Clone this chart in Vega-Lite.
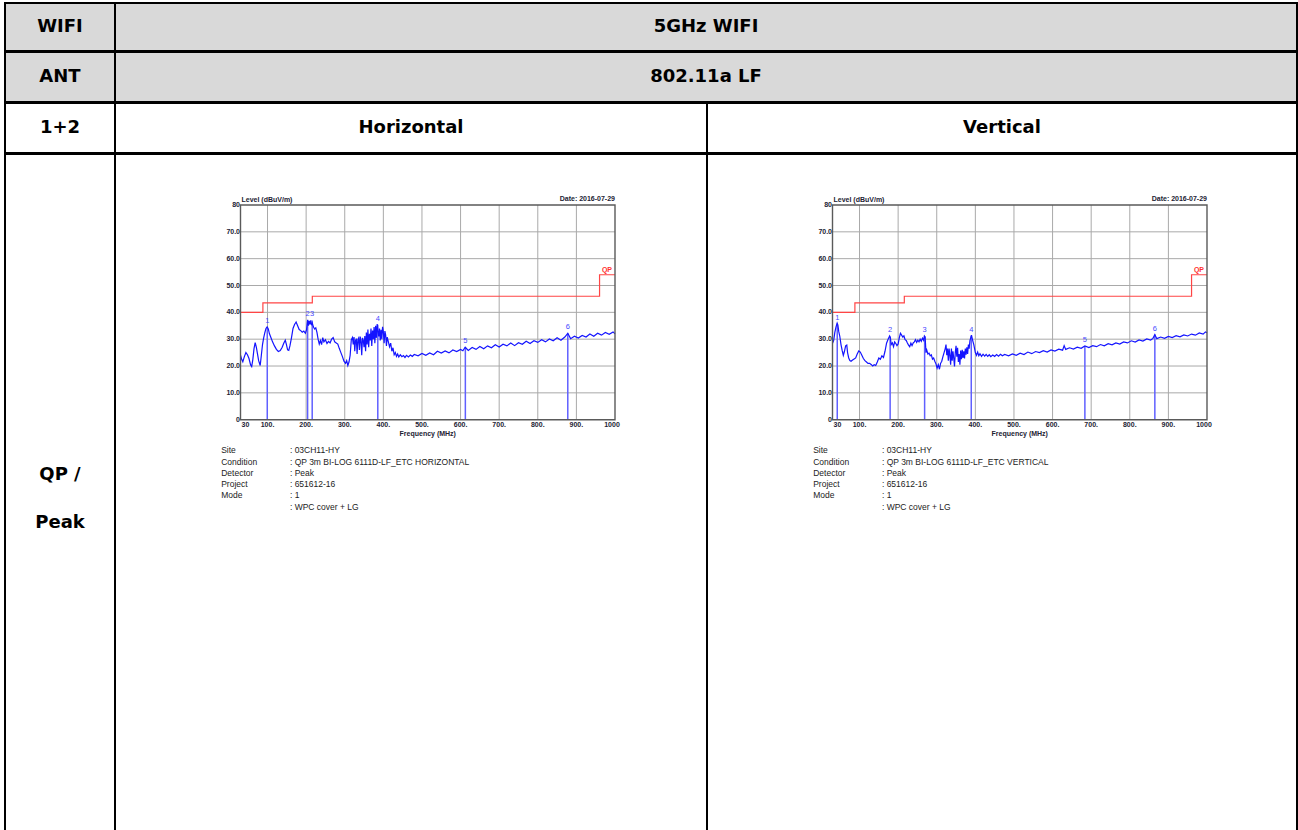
{
  "$schema": "https://vega.github.io/schema/vega-lite/v6.json",
  "padding": {"left": 4, "top": 2, "right": 0, "bottom": 0},
  "background": "white",
  "spacing": -3,
  "config": {
    "view": {"stroke": "black", "strokeWidth": 2},
    "text": {"font": "DejaVu Sans", "fontWeight": "bold", "fontSize": 18, "color": "black"}
  },
  "datasets": {
    "xg": [{"f": 100, "lo": 0, "hi": 80}, {"f": 200, "lo": 0, "hi": 80}, {"f": 300, "lo": 0, "hi": 80}, {"f": 400, "lo": 0, "hi": 80}, {"f": 500, "lo": 0, "hi": 80}, {"f": 600, "lo": 0, "hi": 80}, {"f": 700, "lo": 0, "hi": 80}, {"f": 800, "lo": 0, "hi": 80}, {"f": 900, "lo": 0, "hi": 80}],
    "yg": [{"l": 10, "fa": 30, "fb": 1000}, {"l": 20, "fa": 30, "fb": 1000}, {"l": 30, "fa": 30, "fb": 1000}, {"l": 40, "fa": 30, "fb": 1000}, {"l": 50, "fa": 30, "fb": 1000}, {"l": 60, "fa": 30, "fb": 1000}, {"l": 70, "fa": 30, "fb": 1000}],
    "xl": [{"f": 100, "l": 0, "t": "100."}, {"f": 200, "l": 0, "t": "200."}, {"f": 300, "l": 0, "t": "300."}, {"f": 400, "l": 0, "t": "400."}, {"f": 500, "l": 0, "t": "500."}, {"f": 600, "l": 0, "t": "600."}, {"f": 700, "l": 0, "t": "700."}, {"f": 800, "l": 0, "t": "800."}, {"f": 900, "l": 0, "t": "900."}],
    "yl": [{"f": 30, "l": 80, "t": "80"}, {"f": 30, "l": 70, "t": "70.0"}, {"f": 30, "l": 60, "t": "60.0"}, {"f": 30, "l": 50, "t": "50.0"}, {"f": 30, "l": 40, "t": "40.0"}, {"f": 30, "l": 30, "t": "30.0"}, {"f": 30, "l": 20, "t": "20.0"}, {"f": 30, "l": 10, "t": "10.0"}, {"f": 30, "l": 0, "t": "0"}],
    "lim": [{"f": 30, "l": 40}, {"f": 88, "l": 43.5}, {"f": 216, "l": 46}, {"f": 960, "l": 54}, {"f": 1000, "l": 54}],
    "frame": [{"f0": 30, "f1": 1000, "l0": 0, "l1": 80, "fm": 515, "lq": 54}],
    "mh": [{"f": 99.3, "l": 34.5, "z": 0, "n": "1"}, {"f": 203.8, "l": 37.0, "z": 0, "n": "2"}, {"f": 215.7, "l": 37.0, "z": 0, "n": "3"}, {"f": 385.6, "l": 35.4, "z": 0, "n": "4"}, {"f": 612.4, "l": 27.0, "z": 0, "n": "5"}, {"f": 877.7, "l": 32.2, "z": 0, "n": "6"}],
    "mv": [{"f": 42.3, "l": 35.8, "z": 0, "n": "1"}, {"f": 179.3, "l": 31.0, "z": 0, "n": "2"}, {"f": 268.6, "l": 31.0, "z": 0, "n": "3"}, {"f": 389.4, "l": 31.3, "z": 0, "n": "4"}, {"f": 683.7, "l": 27.5, "z": 0, "n": "5"}, {"f": 864.9, "l": 31.7, "z": 0, "n": "6"}],
    "th": [
      {"f": 30, "l": 24.0}, {"f": 33, "l": 22.5}, {"f": 36, "l": 21.6}, {"f": 40, "l": 23.5}, {"f": 44, "l": 25.0}, {"f": 48, "l": 24.2}, {"f": 52, "l": 22.8}, {"f": 56, "l": 20.5}, {"f": 59, "l": 19.8}, {"f": 62, "l": 22.5}, {"f": 65, "l": 26.5}, {"f": 68, "l": 28.7}, {"f": 71, "l": 27.0}, {"f": 74, "l": 24.5}, {"f": 77, "l": 22.0}, {"f": 81, "l": 20.2}, {"f": 84, "l": 24.0}, {"f": 87, "l": 28.0}, {"f": 90, "l": 30.5}, {"f": 93, "l": 32.4}, {"f": 96, "l": 34.0}, {"f": 99, "l": 34.6}, {"f": 102, "l": 33.8}, {"f": 105, "l": 32.0}, {"f": 109, "l": 30.5}, {"f": 113, "l": 29.0}, {"f": 118, "l": 27.5}, {"f": 123, "l": 26.2}, {"f": 128, "l": 25.4}, {"f": 133, "l": 25.8}, {"f": 138, "l": 27.0}, {"f": 142, "l": 28.5}, {"f": 146, "l": 29.6}, {"f": 149, "l": 28.0}, {"f": 152, "l": 26.0}, {"f": 155, "l": 25.8}, {"f": 158, "l": 27.5}, {"f": 162, "l": 30.5}, {"f": 166, "l": 34.0}, {"f": 170, "l": 35.5}, {"f": 174, "l": 36.4}, {"f": 178, "l": 35.0}, {"f": 182, "l": 33.6}, {"f": 186, "l": 33.2}, {"f": 190, "l": 32.6}, {"f": 194, "l": 33.0}, {"f": 198, "l": 32.2}, {"f": 201, "l": 33.5}, {"f": 204, "l": 37.2}, {"f": 206, "l": 35.0}, {"f": 208, "l": 36.8}, {"f": 210, "l": 35.5}, {"f": 212, "l": 37.0}, {"f": 214, "l": 35.2}, {"f": 216, "l": 36.0}, {"f": 219, "l": 34.5}, {"f": 222, "l": 33.8}, {"f": 225, "l": 34.2}, {"f": 228, "l": 32.5}, {"f": 231, "l": 30.0}, {"f": 234, "l": 28.2}, {"f": 237, "l": 29.5}, {"f": 240, "l": 28.0}, {"f": 243, "l": 30.6}, {"f": 246, "l": 29.0}, {"f": 250, "l": 29.8}, {"f": 254, "l": 28.4}, {"f": 258, "l": 29.2}, {"f": 262, "l": 28.6}, {"f": 266, "l": 30.0}, {"f": 270, "l": 30.6}, {"f": 274, "l": 29.0}, {"f": 278, "l": 28.6}, {"f": 282, "l": 28.2}, {"f": 286, "l": 26.5}, {"f": 290, "l": 25.0}, {"f": 294, "l": 23.5}, {"f": 298, "l": 21.8}, {"f": 302, "l": 21.0}, {"f": 305, "l": 22.0}, {"f": 308, "l": 20.2}, {"f": 311, "l": 21.5}, {"f": 314, "l": 24.0}, {"f": 317, "l": 29.8}, {"f": 320, "l": 30.6}, {"f": 322, "l": 28.0}, {"f": 324, "l": 30.8}, {"f": 326, "l": 25.5}, {"f": 328, "l": 29.5}, {"f": 330, "l": 30.2}, {"f": 332, "l": 24.5}, {"f": 334, "l": 29.8}, {"f": 336, "l": 30.4}, {"f": 338, "l": 26.0}, {"f": 340, "l": 31.0}, {"f": 342, "l": 29.5}, {"f": 344, "l": 24.0}, {"f": 346, "l": 30.5}, {"f": 348, "l": 29.6}, {"f": 350, "l": 27.0}, {"f": 352, "l": 31.2}, {"f": 354, "l": 25.5}, {"f": 356, "l": 32.5}, {"f": 358, "l": 28.0}, {"f": 360, "l": 33.6}, {"f": 362, "l": 27.0}, {"f": 364, "l": 32.0}, {"f": 366, "l": 29.5}, {"f": 368, "l": 34.0}, {"f": 370, "l": 27.5}, {"f": 372, "l": 33.2}, {"f": 374, "l": 30.0}, {"f": 376, "l": 34.5}, {"f": 378, "l": 28.5}, {"f": 380, "l": 35.0}, {"f": 382, "l": 30.5}, {"f": 384, "l": 35.6}, {"f": 386, "l": 33.0}, {"f": 388, "l": 31.0}, {"f": 390, "l": 34.0}, {"f": 392, "l": 29.5}, {"f": 394, "l": 33.5}, {"f": 396, "l": 30.0}, {"f": 398, "l": 34.6}, {"f": 400, "l": 32.8}, {"f": 402, "l": 28.5}, {"f": 404, "l": 33.0}, {"f": 406, "l": 31.5}, {"f": 408, "l": 27.5}, {"f": 410, "l": 30.8}, {"f": 413, "l": 29.0}, {"f": 416, "l": 27.2}, {"f": 419, "l": 28.5}, {"f": 422, "l": 25.5}, {"f": 425, "l": 26.8}, {"f": 428, "l": 24.2}, {"f": 431, "l": 25.0}, {"f": 434, "l": 23.6}, {"f": 437, "l": 24.5}, {"f": 440, "l": 23.4}, {"f": 444, "l": 24.2}, {"f": 448, "l": 23.5}, {"f": 452, "l": 23.9}, {"f": 456, "l": 23.2}, {"f": 460, "l": 24.0}, {"f": 465, "l": 23.4}, {"f": 470, "l": 24.1}, {"f": 475, "l": 23.6}, {"f": 480, "l": 24.3},
      {"f": 490, "l": 23.8}, {"f": 500, "l": 24.7}, {"f": 510, "l": 24.0}, {"f": 520, "l": 24.9}, {"f": 530, "l": 24.2}, {"f": 540, "l": 25.5}, {"f": 550, "l": 24.8}, {"f": 560, "l": 25.6}, {"f": 570, "l": 24.9}, {"f": 580, "l": 26.0}, {"f": 590, "l": 25.4}, {"f": 600, "l": 26.2}, {"f": 606, "l": 25.7}, {"f": 612, "l": 27.0}, {"f": 620, "l": 25.8}, {"f": 630, "l": 26.9}, {"f": 640, "l": 26.2}, {"f": 650, "l": 27.3}, {"f": 660, "l": 26.4}, {"f": 670, "l": 27.5}, {"f": 680, "l": 26.8}, {"f": 690, "l": 27.9}, {"f": 700, "l": 27.1}, {"f": 710, "l": 28.1}, {"f": 720, "l": 27.5}, {"f": 730, "l": 28.6}, {"f": 740, "l": 27.6}, {"f": 750, "l": 28.7}, {"f": 760, "l": 28.1}, {"f": 770, "l": 29.2}, {"f": 780, "l": 28.4}, {"f": 790, "l": 29.4}, {"f": 800, "l": 28.8}, {"f": 810, "l": 29.8}, {"f": 820, "l": 29.0}, {"f": 830, "l": 30.1}, {"f": 840, "l": 29.4}, {"f": 850, "l": 30.5}, {"f": 860, "l": 29.6}, {"f": 870, "l": 30.8}, {"f": 877.7, "l": 32.2}, {"f": 885, "l": 30.2}, {"f": 895, "l": 31.1}, {"f": 905, "l": 30.4}, {"f": 915, "l": 31.4}, {"f": 925, "l": 30.8}, {"f": 935, "l": 31.9}, {"f": 945, "l": 31.1}, {"f": 955, "l": 32.2}, {"f": 965, "l": 31.5}, {"f": 975, "l": 32.5}, {"f": 985, "l": 31.8}, {"f": 995, "l": 32.7}, {"f": 1000, "l": 32.0}
    ],
    "tv": [
      {"f": 30, "l": 28.5}, {"f": 33, "l": 29.5}, {"f": 36, "l": 32.5}, {"f": 39, "l": 34.5}, {"f": 42, "l": 36.0}, {"f": 44, "l": 35.2}, {"f": 46, "l": 33.0}, {"f": 49, "l": 31.0}, {"f": 52, "l": 28.0}, {"f": 55, "l": 25.8}, {"f": 58, "l": 24.0}, {"f": 61, "l": 25.5}, {"f": 64, "l": 27.5}, {"f": 67, "l": 27.8}, {"f": 69, "l": 25.0}, {"f": 72, "l": 23.0}, {"f": 75, "l": 22.0}, {"f": 78, "l": 21.8}, {"f": 82, "l": 22.2}, {"f": 86, "l": 22.6}, {"f": 90, "l": 23.0}, {"f": 94, "l": 24.5}, {"f": 98, "l": 25.6}, {"f": 102, "l": 25.2}, {"f": 106, "l": 24.0}, {"f": 110, "l": 22.8}, {"f": 114, "l": 22.0}, {"f": 118, "l": 21.5}, {"f": 122, "l": 21.0}, {"f": 126, "l": 21.0}, {"f": 130, "l": 20.6}, {"f": 134, "l": 20.0}, {"f": 138, "l": 20.5}, {"f": 142, "l": 20.2}, {"f": 146, "l": 21.5}, {"f": 150, "l": 23.0}, {"f": 154, "l": 22.5}, {"f": 158, "l": 23.8}, {"f": 162, "l": 23.2}, {"f": 166, "l": 25.5}, {"f": 170, "l": 28.5}, {"f": 174, "l": 30.0}, {"f": 178, "l": 31.2}, {"f": 180, "l": 30.5}, {"f": 182, "l": 28.0}, {"f": 185, "l": 28.6}, {"f": 188, "l": 27.2}, {"f": 191, "l": 29.0}, {"f": 194, "l": 28.4}, {"f": 197, "l": 27.6}, {"f": 200, "l": 28.2}, {"f": 203, "l": 30.5}, {"f": 206, "l": 32.2}, {"f": 209, "l": 31.5}, {"f": 212, "l": 30.8}, {"f": 215, "l": 31.2}, {"f": 218, "l": 29.8}, {"f": 221, "l": 29.5}, {"f": 224, "l": 28.6}, {"f": 227, "l": 27.8}, {"f": 230, "l": 27.2}, {"f": 233, "l": 28.5}, {"f": 236, "l": 27.6}, {"f": 239, "l": 28.6}, {"f": 242, "l": 29.0}, {"f": 245, "l": 29.8}, {"f": 248, "l": 28.8}, {"f": 251, "l": 29.6}, {"f": 254, "l": 29.0}, {"f": 257, "l": 30.0}, {"f": 260, "l": 29.2}, {"f": 263, "l": 30.4}, {"f": 266, "l": 29.6}, {"f": 268, "l": 31.2}, {"f": 270, "l": 30.8}, {"f": 272, "l": 25.0}, {"f": 274, "l": 26.0}, {"f": 277, "l": 24.5}, {"f": 280, "l": 24.8}, {"f": 283, "l": 23.8}, {"f": 286, "l": 24.2}, {"f": 289, "l": 22.6}, {"f": 292, "l": 23.0}, {"f": 295, "l": 21.8}, {"f": 298, "l": 20.8}, {"f": 301, "l": 19.2}, {"f": 304, "l": 20.5}, {"f": 307, "l": 18.8}, {"f": 310, "l": 21.0}, {"f": 313, "l": 21.8}, {"f": 316, "l": 23.5}, {"f": 319, "l": 25.0}, {"f": 322, "l": 26.5}, {"f": 324, "l": 28.0}, {"f": 326, "l": 24.0}, {"f": 328, "l": 26.5}, {"f": 330, "l": 22.0}, {"f": 332, "l": 26.5}, {"f": 334, "l": 24.0}, {"f": 336, "l": 20.5}, {"f": 338, "l": 26.5}, {"f": 340, "l": 22.0}, {"f": 342, "l": 25.5}, {"f": 344, "l": 23.0}, {"f": 346, "l": 19.8}, {"f": 348, "l": 25.0}, {"f": 350, "l": 27.5}, {"f": 352, "l": 23.5}, {"f": 354, "l": 26.8}, {"f": 356, "l": 21.5}, {"f": 358, "l": 24.5}, {"f": 360, "l": 20.5}, {"f": 362, "l": 25.8}, {"f": 364, "l": 22.5}, {"f": 366, "l": 26.0}, {"f": 368, "l": 23.0}, {"f": 370, "l": 25.5}, {"f": 372, "l": 22.8}, {"f": 374, "l": 26.5}, {"f": 376, "l": 24.2}, {"f": 378, "l": 27.0}, {"f": 380, "l": 24.5}, {"f": 382, "l": 28.0}, {"f": 384, "l": 26.5}, {"f": 386, "l": 29.5}, {"f": 388, "l": 30.5}, {"f": 390, "l": 31.5}, {"f": 392, "l": 30.2}, {"f": 394, "l": 29.0}, {"f": 396, "l": 28.0}, {"f": 398, "l": 26.5}, {"f": 400, "l": 25.0}, {"f": 403, "l": 24.0}, {"f": 406, "l": 25.2}, {"f": 409, "l": 23.8}, {"f": 412, "l": 24.6}, {"f": 416, "l": 23.6}, {"f": 420, "l": 24.4}, {"f": 424, "l": 23.7}, {"f": 428, "l": 24.3}, {"f": 432, "l": 23.6}, {"f": 436, "l": 24.2}, {"f": 440, "l": 23.5}, {"f": 445, "l": 24.1}, {"f": 450, "l": 23.6}, {"f": 455, "l": 24.3}, {"f": 460, "l": 23.7}, {"f": 465, "l": 24.4}, {"f": 470, "l": 23.8}, {"f": 476, "l": 24.3},
      {"f": 486, "l": 23.8}, {"f": 496, "l": 24.5}, {"f": 506, "l": 24.0}, {"f": 516, "l": 24.8}, {"f": 526, "l": 24.3}, {"f": 536, "l": 25.2}, {"f": 546, "l": 24.6}, {"f": 556, "l": 25.4}, {"f": 566, "l": 25.0}, {"f": 576, "l": 25.7}, {"f": 586, "l": 25.2}, {"f": 596, "l": 26.0}, {"f": 606, "l": 25.6}, {"f": 616, "l": 26.3}, {"f": 626, "l": 25.9}, {"f": 630, "l": 27.6}, {"f": 634, "l": 26.2}, {"f": 644, "l": 26.8}, {"f": 654, "l": 26.3}, {"f": 664, "l": 27.0}, {"f": 674, "l": 26.6}, {"f": 683.7, "l": 27.5}, {"f": 694, "l": 26.9}, {"f": 704, "l": 27.6}, {"f": 714, "l": 27.2}, {"f": 724, "l": 28.0}, {"f": 734, "l": 27.5}, {"f": 744, "l": 28.3}, {"f": 754, "l": 27.9}, {"f": 764, "l": 28.6}, {"f": 774, "l": 28.2}, {"f": 784, "l": 29.0}, {"f": 794, "l": 28.6}, {"f": 804, "l": 29.4}, {"f": 814, "l": 28.9}, {"f": 824, "l": 29.7}, {"f": 834, "l": 29.3}, {"f": 844, "l": 30.1}, {"f": 854, "l": 29.7}, {"f": 860, "l": 30.3}, {"f": 864.9, "l": 31.7}, {"f": 870, "l": 30.2}, {"f": 880, "l": 30.8}, {"f": 890, "l": 30.3}, {"f": 900, "l": 31.0}, {"f": 910, "l": 30.6}, {"f": 920, "l": 31.3}, {"f": 930, "l": 30.9}, {"f": 940, "l": 31.6}, {"f": 950, "l": 31.2}, {"f": 960, "l": 31.9}, {"f": 970, "l": 31.5}, {"f": 980, "l": 32.3}, {"f": 990, "l": 31.9}, {"f": 996, "l": 32.7}, {"f": 1000, "l": 32.4}
    ],
    "info": [{"fk": -20, "fv": 158, "ly": -9.9}]
  },
  "vconcat": [
    {
      "hconcat": [
        {"width": 110, "height": 48, "view": {"fill": "#d9d9d9", "stroke": "black", "strokeWidth": 2}, "data": {"values": [{"label": "WIFI"}]}, "mark": {"type": "text"}, "encoding": {"text": {"field": "label", "type": "nominal"}}},
        {"width": 1182, "height": 48, "view": {"fill": "#d9d9d9", "stroke": "black", "strokeWidth": 2}, "data": {"values": [{"label": "5GHz WIFI"}]}, "mark": {"type": "text"}, "encoding": {"text": {"field": "label", "type": "nominal"}}}
      ],
      "spacing": 0, "bounds": "flush"
    },
    {
      "hconcat": [
        {"width": 110, "height": 50, "view": {"fill": "#d9d9d9", "stroke": "black", "strokeWidth": 2}, "data": {"values": [{"label": "ANT"}]}, "mark": {"type": "text"}, "encoding": {"text": {"field": "label", "type": "nominal"}}},
        {"width": 1182, "height": 50, "view": {"fill": "#d9d9d9", "stroke": "black", "strokeWidth": 2}, "data": {"values": [{"label": "802.11a LF"}]}, "mark": {"type": "text"}, "encoding": {"text": {"field": "label", "type": "nominal"}}}
      ],
      "spacing": 0, "bounds": "flush"
    },
    {
      "hconcat": [
        {"width": 110, "height": 50, "view": {"stroke": "black", "strokeWidth": 2}, "data": {"values": [{"label": "1+2"}]}, "mark": {"type": "text"}, "encoding": {"text": {"field": "label", "type": "nominal"}}},
        {"width": 592, "height": 50, "view": {"stroke": "black", "strokeWidth": 2}, "data": {"values": [{"label": "Horizontal"}]}, "mark": {"type": "text"}, "encoding": {"text": {"field": "label", "type": "nominal"}}},
        {"width": 590, "height": 50, "view": {"stroke": "black", "strokeWidth": 2}, "data": {"values": [{"label": "Vertical"}]}, "mark": {"type": "text"}, "encoding": {"text": {"field": "label", "type": "nominal"}}}
      ],
      "spacing": 0, "bounds": "flush"
    },
    {
      "hconcat": [
        {"width": 110, "height": 678, "view": {"stroke": "black", "strokeWidth": 2, "strokeDash": [788, 110, 678]}, "data": {"values": [{"label": "QP /\nPeak"}]}, "mark": {"type": "text", "lineBreak": "\n", "lineHeight": 48, "dy": -18}, "encoding": {"text": {"field": "label", "type": "nominal"}}},
        {
          "width": 592, "height": 678,
          "view": {"stroke": "black", "strokeWidth": 2, "strokeDash": [1270, 592, 678]},
          "layer": [
            {"data": {"name": "xg"}, "mark": {"type": "rule", "color": "#a9a9a9", "strokeWidth": 1},
             "encoding": {"x": {"field": "f", "type": "quantitative", "scale": {"domain": [-295.06, 1238.29], "nice": false, "zero": false}, "axis": null}, "y": {"field": "lo", "type": "quantitative", "scale": {"domain": [-153.63, 99.0], "nice": false, "zero": false}, "axis": null}, "y2": {"field": "hi"}}},
            {"data": {"name": "yg"}, "mark": {"type": "rule", "color": "#a9a9a9", "strokeWidth": 1},
             "encoding": {"y": {"field": "l", "type": "quantitative", "axis": null}, "x": {"field": "fa", "type": "quantitative", "axis": null}, "x2": {"field": "fb"}}},
            {"data": {"name": "lim"}, "mark": {"type": "line", "interpolate": "step-after", "color": "#ff4545", "strokeWidth": 1.2},
             "encoding": {"x": {"field": "f", "type": "quantitative", "axis": null}, "y": {"field": "l", "type": "quantitative", "axis": null}}},
            {"data": {"name": "mh"}, "mark": {"type": "rule", "color": "#6060ff", "strokeWidth": 1.5},
             "encoding": {"x": {"field": "f", "type": "quantitative", "axis": null}, "y": {"field": "l", "type": "quantitative", "axis": null}, "y2": {"field": "z"}}},
            {"data": {"name": "th"}, "mark": {"type": "line", "color": "#1414ff", "strokeWidth": 1.2},
             "encoding": {"x": {"field": "f", "type": "quantitative", "axis": null}, "y": {"field": "l", "type": "quantitative", "axis": null}}},
            {"data": {"name": "frame"}, "mark": {"type": "rect", "filled": false, "stroke": "#5a5a5a", "strokeWidth": 1.4},
             "encoding": {"x": {"field": "f0", "type": "quantitative", "axis": null}, "x2": {"field": "f1"}, "y": {"field": "l0", "type": "quantitative", "axis": null}, "y2": {"field": "l1"}}},
            {"data": {"name": "xl"}, "mark": {"type": "text", "font": "Liberation Sans", "fontSize": 7, "fontWeight": "bold", "color": "#222233", "baseline": "middle", "dy": 5},
             "encoding": {"x": {"field": "f", "type": "quantitative", "axis": null}, "y": {"field": "l", "type": "quantitative", "axis": null}, "text": {"field": "t", "type": "nominal"}}},
            {"data": {"name": "frame"}, "mark": {"type": "text", "text": "30", "align": "left", "dx": 1, "font": "Liberation Sans", "fontSize": 7, "fontWeight": "bold", "color": "#222233", "baseline": "middle", "dy": 5},
             "encoding": {"x": {"field": "f0", "type": "quantitative", "axis": null}, "y": {"field": "l0", "type": "quantitative", "axis": null}}},
            {"data": {"name": "frame"}, "mark": {"type": "text", "text": "1000", "align": "center", "dx": -3, "font": "Liberation Sans", "fontSize": 7, "fontWeight": "bold", "color": "#222233", "baseline": "middle", "dy": 5},
             "encoding": {"x": {"field": "f1", "type": "quantitative", "axis": null}, "y": {"field": "l0", "type": "quantitative", "axis": null}}},
            {"data": {"name": "yl"}, "mark": {"type": "text", "align": "right", "dx": -0.5, "font": "Liberation Sans", "fontSize": 7, "fontWeight": "bold", "color": "#222233", "baseline": "middle"},
             "encoding": {"x": {"field": "f", "type": "quantitative", "axis": null}, "y": {"field": "l", "type": "quantitative", "axis": null}, "text": {"field": "t", "type": "nominal"}}},
            {"data": {"name": "mh"}, "mark": {"type": "text", "font": "Liberation Sans", "fontSize": 7.5, "fontWeight": "normal", "color": "#4848ff", "baseline": "middle", "dy": -6},
             "encoding": {"x": {"field": "f", "type": "quantitative", "axis": null}, "y": {"field": "l", "type": "quantitative", "axis": null}, "text": {"field": "n", "type": "nominal"}}},
            {"data": {"name": "frame"}, "mark": {"type": "text", "text": "Level (dBuV/m)", "align": "left", "dx": 1, "dy": -4.5, "baseline": "middle", "font": "Liberation Sans", "fontSize": 7, "fontWeight": "bold", "color": "#222233"},
             "encoding": {"x": {"field": "f0", "type": "quantitative", "axis": null}, "y": {"field": "l1", "type": "quantitative", "axis": null}}},
            {"data": {"name": "frame"}, "mark": {"type": "text", "text": "Date: 2016-07-29", "align": "right", "dy": -5.5, "baseline": "middle", "font": "Liberation Sans", "fontSize": 7, "fontWeight": "bold", "color": "#222233"},
             "encoding": {"x": {"field": "f1", "type": "quantitative", "axis": null}, "y": {"field": "l1", "type": "quantitative", "axis": null}}},
            {"data": {"name": "frame"}, "mark": {"type": "text", "text": "Frequency (MHz)", "align": "center", "dy": 14, "baseline": "middle", "font": "Liberation Sans", "fontSize": 7, "fontWeight": "bold", "color": "#222233"},
             "encoding": {"x": {"field": "fm", "type": "quantitative", "axis": null}, "y": {"field": "l0", "type": "quantitative", "axis": null}}},
            {"data": {"name": "frame"}, "mark": {"type": "text", "text": "QP", "align": "right", "dx": -3, "dy": -4.5, "baseline": "middle", "font": "Liberation Sans", "fontSize": 7, "fontWeight": "bold", "color": "#ff3030"},
             "encoding": {"x": {"field": "f1", "type": "quantitative", "axis": null}, "y": {"field": "lq", "type": "quantitative", "axis": null}}},
            {"data": {"name": "info"}, "mark": {"type": "text", "text": "Site\nCondition\nDetector\nProject\nMode", "lineBreak": "\n", "align": "left", "baseline": "top", "lineHeight": 11.3, "font": "Liberation Sans", "fontSize": 8.5, "fontWeight": "normal", "color": "#222222"},
             "encoding": {"x": {"field": "fk", "type": "quantitative", "axis": null}, "y": {"field": "ly", "type": "quantitative", "axis": null}}},
            {"data": {"name": "info"}, "mark": {"type": "text", "text": ": 03CH11-HY\n: QP 3m BI-LOG 6111D-LF_ETC HORIZONTAL\n: Peak\n: 651612-16\n: 1\n: WPC cover + LG", "lineBreak": "\n", "align": "left", "baseline": "top", "lineHeight": 11.3, "font": "Liberation Sans", "fontSize": 8.5, "fontWeight": "normal", "color": "#222222"},
             "encoding": {"x": {"field": "fv", "type": "quantitative", "axis": null}, "y": {"field": "ly", "type": "quantitative", "axis": null}}}
          ]
        },
        {
          "width": 590, "height": 678,
          "view": {"stroke": "black", "strokeWidth": 2, "strokeDash": [1268, 590, 678]},
          "layer": [
            {"data": {"name": "xg"}, "mark": {"type": "rule", "color": "#a9a9a9", "strokeWidth": 1},
             "encoding": {"x": {"field": "f", "type": "quantitative", "scale": {"domain": [-295.06, 1233.11], "nice": false, "zero": false}, "axis": null}, "y": {"field": "lo", "type": "quantitative", "scale": {"domain": [-153.63, 99.0], "nice": false, "zero": false}, "axis": null}, "y2": {"field": "hi"}}},
            {"data": {"name": "yg"}, "mark": {"type": "rule", "color": "#a9a9a9", "strokeWidth": 1},
             "encoding": {"y": {"field": "l", "type": "quantitative", "axis": null}, "x": {"field": "fa", "type": "quantitative", "axis": null}, "x2": {"field": "fb"}}},
            {"data": {"name": "lim"}, "mark": {"type": "line", "interpolate": "step-after", "color": "#ff4545", "strokeWidth": 1.2},
             "encoding": {"x": {"field": "f", "type": "quantitative", "axis": null}, "y": {"field": "l", "type": "quantitative", "axis": null}}},
            {"data": {"name": "mv"}, "mark": {"type": "rule", "color": "#6060ff", "strokeWidth": 1.5},
             "encoding": {"x": {"field": "f", "type": "quantitative", "axis": null}, "y": {"field": "l", "type": "quantitative", "axis": null}, "y2": {"field": "z"}}},
            {"data": {"name": "tv"}, "mark": {"type": "line", "color": "#1414ff", "strokeWidth": 1.2},
             "encoding": {"x": {"field": "f", "type": "quantitative", "axis": null}, "y": {"field": "l", "type": "quantitative", "axis": null}}},
            {"data": {"name": "frame"}, "mark": {"type": "rect", "filled": false, "stroke": "#5a5a5a", "strokeWidth": 1.4},
             "encoding": {"x": {"field": "f0", "type": "quantitative", "axis": null}, "x2": {"field": "f1"}, "y": {"field": "l0", "type": "quantitative", "axis": null}, "y2": {"field": "l1"}}},
            {"data": {"name": "xl"}, "mark": {"type": "text", "font": "Liberation Sans", "fontSize": 7, "fontWeight": "bold", "color": "#222233", "baseline": "middle", "dy": 5},
             "encoding": {"x": {"field": "f", "type": "quantitative", "axis": null}, "y": {"field": "l", "type": "quantitative", "axis": null}, "text": {"field": "t", "type": "nominal"}}},
            {"data": {"name": "frame"}, "mark": {"type": "text", "text": "30", "align": "left", "dx": 1, "font": "Liberation Sans", "fontSize": 7, "fontWeight": "bold", "color": "#222233", "baseline": "middle", "dy": 5},
             "encoding": {"x": {"field": "f0", "type": "quantitative", "axis": null}, "y": {"field": "l0", "type": "quantitative", "axis": null}}},
            {"data": {"name": "frame"}, "mark": {"type": "text", "text": "1000", "align": "center", "dx": -3, "font": "Liberation Sans", "fontSize": 7, "fontWeight": "bold", "color": "#222233", "baseline": "middle", "dy": 5},
             "encoding": {"x": {"field": "f1", "type": "quantitative", "axis": null}, "y": {"field": "l0", "type": "quantitative", "axis": null}}},
            {"data": {"name": "yl"}, "mark": {"type": "text", "align": "right", "dx": -0.5, "font": "Liberation Sans", "fontSize": 7, "fontWeight": "bold", "color": "#222233", "baseline": "middle"},
             "encoding": {"x": {"field": "f", "type": "quantitative", "axis": null}, "y": {"field": "l", "type": "quantitative", "axis": null}, "text": {"field": "t", "type": "nominal"}}},
            {"data": {"name": "mv"}, "mark": {"type": "text", "font": "Liberation Sans", "fontSize": 7.5, "fontWeight": "normal", "color": "#4848ff", "baseline": "middle", "dy": -6},
             "encoding": {"x": {"field": "f", "type": "quantitative", "axis": null}, "y": {"field": "l", "type": "quantitative", "axis": null}, "text": {"field": "n", "type": "nominal"}}},
            {"data": {"name": "frame"}, "mark": {"type": "text", "text": "Level (dBuV/m)", "align": "left", "dx": 1, "dy": -4.5, "baseline": "middle", "font": "Liberation Sans", "fontSize": 7, "fontWeight": "bold", "color": "#222233"},
             "encoding": {"x": {"field": "f0", "type": "quantitative", "axis": null}, "y": {"field": "l1", "type": "quantitative", "axis": null}}},
            {"data": {"name": "frame"}, "mark": {"type": "text", "text": "Date: 2016-07-29", "align": "right", "dy": -5.5, "baseline": "middle", "font": "Liberation Sans", "fontSize": 7, "fontWeight": "bold", "color": "#222233"},
             "encoding": {"x": {"field": "f1", "type": "quantitative", "axis": null}, "y": {"field": "l1", "type": "quantitative", "axis": null}}},
            {"data": {"name": "frame"}, "mark": {"type": "text", "text": "Frequency (MHz)", "align": "center", "dy": 14, "baseline": "middle", "font": "Liberation Sans", "fontSize": 7, "fontWeight": "bold", "color": "#222233"},
             "encoding": {"x": {"field": "fm", "type": "quantitative", "axis": null}, "y": {"field": "l0", "type": "quantitative", "axis": null}}},
            {"data": {"name": "frame"}, "mark": {"type": "text", "text": "QP", "align": "right", "dx": -3, "dy": -4.5, "baseline": "middle", "font": "Liberation Sans", "fontSize": 7, "fontWeight": "bold", "color": "#ff3030"},
             "encoding": {"x": {"field": "f1", "type": "quantitative", "axis": null}, "y": {"field": "lq", "type": "quantitative", "axis": null}}},
            {"data": {"name": "info"}, "mark": {"type": "text", "text": "Site\nCondition\nDetector\nProject\nMode", "lineBreak": "\n", "align": "left", "baseline": "top", "lineHeight": 11.3, "font": "Liberation Sans", "fontSize": 8.5, "fontWeight": "normal", "color": "#222222"},
             "encoding": {"x": {"field": "fk", "type": "quantitative", "axis": null}, "y": {"field": "ly", "type": "quantitative", "axis": null}}},
            {"data": {"name": "info"}, "mark": {"type": "text", "text": ": 03CH11-HY\n: QP 3m BI-LOG 6111D-LF_ETC VERTICAL\n: Peak\n: 651612-16\n: 1\n: WPC cover + LG", "lineBreak": "\n", "align": "left", "baseline": "top", "lineHeight": 11.3, "font": "Liberation Sans", "fontSize": 8.5, "fontWeight": "normal", "color": "#222222"},
             "encoding": {"x": {"field": "fv", "type": "quantitative", "axis": null}, "y": {"field": "ly", "type": "quantitative", "axis": null}}}
          ]
        }
      ],
      "spacing": 0, "bounds": "flush"
    }
  ]
}
